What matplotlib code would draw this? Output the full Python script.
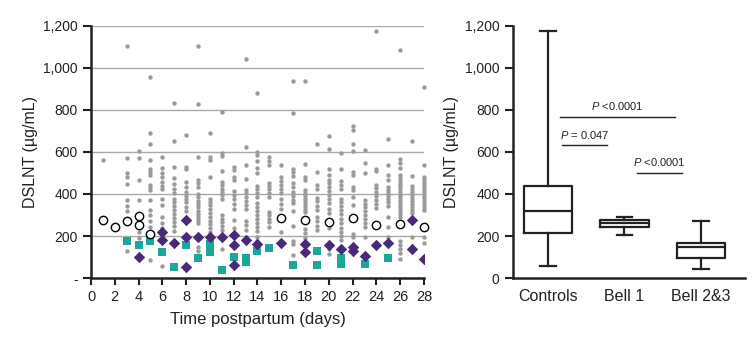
import matplotlib.pyplot as plt
import numpy as np

plt.rcParams['font.family'] = ['Liberation Sans', 'DejaVu Sans']
plt.rcParams['mathtext.fontset'] = 'custom'
plt.rcParams['mathtext.it'] = 'Liberation Sans:italic'
plt.rcParams['mathtext.rm'] = 'Liberation Sans'

# individual control samples by day postpartum
control_days = list(range(1, 29))
control_values = [
    [562],
    [],
    [1106, 571, 502, 483, 446, 370, 344, 319, 129],
    [605, 571, 467, 373, 219, 192],
    [957, 689, 638, 562, 521, 505, 489, 444, 432, 419, 371, 324, 302, 270, 241, 86],
    [578, 524, 498, 479, 457, 438, 422, 378, 346, 289, 260, 238, 57],
    [833, 654, 527, 476, 448, 425, 403, 378, 362, 343, 324, 305, 286, 267, 248, 225],
    [679, 530, 518, 457, 432, 410, 392, 378, 360, 340, 320],
    [1106, 827, 578, 467, 451, 432, 400, 384, 368, 352, 336, 320, 305, 290, 276, 262, 149, 130],
    [690, 578, 562, 483, 378, 362, 346, 327, 308, 289, 273, 257, 238, 219],
    [790, 597, 581, 508, 457, 441, 425, 410, 394, 378, 302, 283, 267, 248, 229, 137],
    [527, 515, 479, 467, 416, 397, 378, 352, 330, 276, 238],
    [1044, 622, 540, 473, 419, 403, 387, 368, 349, 330, 270, 251, 229],
    [880, 600, 585, 556, 522, 502, 438, 422, 403, 384, 358, 336, 317, 298, 279, 260, 241, 222, 197, 175],
    [575, 557, 537, 454, 438, 422, 403, 384, 314, 298, 283, 267, 245],
    [540, 479, 460, 441, 422, 403, 375, 352, 330, 219],
    [938, 784, 518, 505, 486, 451, 432, 410, 390, 371, 355, 321, 248, 175, 162, 108],
    [938, 545, 483, 467, 419, 405, 392, 378, 365, 352, 338, 325, 312, 235, 213, 190],
    [637, 505, 444, 425, 381, 365, 343, 324, 289, 270, 248, 229],
    [675, 614, 518, 489, 467, 451, 435, 416, 394, 375, 355, 330, 308, 238, 137, 114],
    [597, 518, 460, 441, 422, 378, 362, 343, 324, 305, 283, 260, 238, 219, 200, 181],
    [725, 705, 637, 605, 505, 489, 435, 419, 387, 346, 210, 194],
    [608, 549, 498, 371, 352, 337, 318, 298, 279, 260, 241, 197],
    [1176, 518, 508, 444, 429, 410, 390, 371, 352, 333],
    [660, 540, 489, 467, 435, 420, 405, 390, 375, 360, 345, 292, 241, 197],
    [1086, 568, 546, 524, 489, 475, 462, 449, 436, 423, 410, 397, 384, 371, 358, 345,
     332, 318, 305, 292, 175, 156, 137, 118, 92],
    [650, 486, 438, 424, 410, 396, 382, 368, 352, 338, 323, 308, 194],
    [911, 538, 483, 470, 457, 444, 431, 418, 405, 392, 379, 366, 353, 340, 324, 197, 165],
]

# control median per sampled day
median_days = [1, 2, 3, 4, 4, 5, 16, 18, 20, 22, 24, 26, 28]
median_values = [277, 245, 270, 295, 254, 208, 284, 277, 266, 286, 252, 258, 242]

# cases (purple diamonds)
diamond_days = [4, 6, 6, 7, 8, 8, 8, 9, 10, 11, 12, 12, 12, 13, 14, 16, 18, 18,
                20, 21, 22, 22, 23, 24, 25, 27, 27, 28]
diamond_values = [101, 217, 181, 167, 275, 197, 54, 197, 197, 197, 205, 156, 64, 183,
                  162, 167, 162, 125, 159, 139, 148, 128, 104, 158, 167, 277, 139, 92]

# cases (teal squares)
square_days = [3, 4, 5, 6, 7, 8, 9, 10, 10, 11, 12, 13, 13, 14, 15, 17, 19, 19,
               21, 21, 23, 25]
square_values = [175, 158, 178, 123, 54, 158, 97, 164, 126, 38, 101, 97, 76, 130,
                 144, 61, 130, 61, 93, 67, 68, 97]

# box plot summary
groups = ['Controls', 'Bell 1', 'Bell 2&3']
box_min = [55, 207, 43]
box_q1 = [215, 245, 95]
box_median = [321, 260, 148]
box_q3 = [437, 275, 167]
box_max = [1175, 292, 270]

# significance bars: label, x start, x end, height
p_labels = ['$\\it{P}$ <0.0001', '$\\it{P}$ = 0.047', '$\\it{P}$ <0.0001']
p_x0 = [0.16, 0.19, 1.16]
p_x1 = [1.66, 0.77, 1.75]
p_y = [768, 631, 501]

grey = '#9b9b9e'
teal = '#1ba89b'
purple = '#4a2a78'
ink = '#222222'

fig = plt.figure(figsize=(7.54, 3.37), dpi=100)
ax1 = fig.add_axes([0.1207, 0.175, 0.4416, 0.748])
ax2 = fig.add_axes([0.680, 0.175, 0.308, 0.748])

# left: scatter over time
for y in [200, 400, 600, 800, 1000, 1200]:
    ax1.axhline(y, color='#aaaaaa', lw=1.0, zorder=0)

for d, vals in zip(control_days, control_values):
    ax1.scatter([d] * len(vals), vals, s=10, color=grey, lw=0, zorder=2, clip_on=False)
ax1.scatter(square_days, square_values, marker='s', s=36, color=teal, lw=0, zorder=3)
ax1.scatter(diamond_days, diamond_values, marker='D', s=34, color=purple, lw=0, zorder=4)
ax1.scatter(median_days, median_values, marker='o', s=36, facecolor='white',
            edgecolor='black', lw=1.0, zorder=5, clip_on=False)

ax1.set_xlim(0, 28)
ax1.set_ylim(0, 1200)
ax1.set_xticks(range(0, 29, 2))
ax1.set_yticks([0, 200, 400, 600, 800, 1000, 1200])
ax1.set_yticklabels(['-', '200', '400', '600', '800', '1,000', '1,200'])
ax1.set_xlabel('Time postpartum (days)', fontsize=12, color=ink, labelpad=6)
ax1.set_ylabel('DSLNT (µg/mL)', fontsize=11.5, color=ink)

# right: box plots
stats = []
for g, lo, q1, med, q3, hi in zip(groups, box_min, box_q1, box_median, box_q3, box_max):
    stats.append({'label': g, 'whislo': lo, 'q1': q1, 'med': med, 'q3': q3, 'whishi': hi})
lw = 1.6
ax2.bxp(stats, positions=[0, 1, 2], widths=0.63, showfliers=False,
        boxprops=dict(color=ink, lw=lw),
        medianprops=dict(color=ink, lw=lw),
        whiskerprops=dict(color=ink, lw=lw),
        capprops=dict(color=ink, lw=lw), capwidths=0.2)

for lab, x0, x1, y in zip(p_labels, p_x0, p_x1, p_y):
    ax2.plot([x0, x1], [y, y], color=ink, lw=1.0)
    ax2.text((x0 + x1) / 2, y + 22, lab, ha='center', va='bottom', fontsize=8, color=ink)

ax2.set_xlim(-0.46, 2.575)
ax2.set_ylim(0, 1200)
ax2.set_yticks([0, 200, 400, 600, 800, 1000, 1200])
ax2.set_yticklabels(['0', '200', '400', '600', '800', '1,000', '1,200'])
ax2.set_ylabel('DSLNT (µg/mL)', fontsize=11.5, color=ink)
ax2.tick_params(axis='x', length=0, labelsize=11.5, pad=8, colors=ink)

for ax in (ax1, ax2):
    ax.spines['top'].set_visible(False)
    ax.spines['right'].set_visible(False)
    for side in ('left', 'bottom'):
        ax.spines[side].set_linewidth(1.8)
        ax.spines[side].set_color(ink)
    ax.tick_params(axis='y', length=6, width=1.5, labelsize=10, colors=ink)
ax1.tick_params(axis='x', length=5, width=1.5, labelsize=10.5, colors=ink)

fig.savefig('out.png', dpi=100)
